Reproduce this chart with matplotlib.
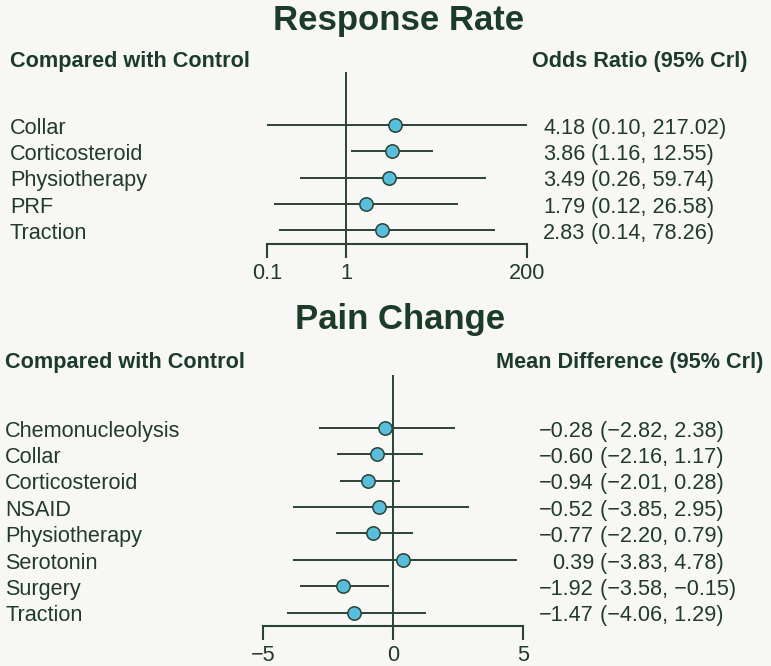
import matplotlib
matplotlib.use("Agg")
import matplotlib.pyplot as plt
import matplotlib.transforms as mtransforms

# ---------------- data ----------------
rr_labels = ["Collar", "Corticosteroid", "Physiotherapy", "PRF", "Traction"]
rr_est = [4.18, 3.86, 3.49, 1.79, 2.83]
rr_lo = [0.10, 1.16, 0.26, 0.12, 0.14]
rr_hi = [217.02, 12.55, 59.74, 26.58, 78.26]
rr_ticks = [0.1, 1, 200]
rr_ticklabels = ["0.1", "1", "200"]

pc_labels = ["Chemonucleolysis", "Collar", "Corticosteroid", "NSAID",
             "Physiotherapy", "Serotonin", "Surgery", "Traction"]
pc_est = [-0.28, -0.60, -0.94, -0.52, -0.77, 0.39, -1.92, -1.47]
pc_lo = [-2.82, -2.16, -2.01, -3.85, -2.20, -3.83, -3.58, -4.06]
pc_hi = [2.38, 1.17, 0.28, 2.95, 0.79, 4.78, -0.15, 1.29]
pc_ticks = [-5, 0, 5]
pc_ticklabels = ["\u22125", "0", "5"]

# ---------------- style ----------------
W, H = 771, 666
BG = "#f7f7f5"
DARK = "#1c3b29"
TXT = "#213a2b"
LINE = "#2a4434"
BLUE = "#58bedb"
FONT = "Liberation Sans"
FS = 15.6
plt.rcParams["font.family"] = [FONT, "DejaVu Sans"]

fig = plt.figure(figsize=(W / 100, H / 100), dpi=100, facecolor=BG)


def fx(px):
    return px / W


def fy(py):
    return 1 - py / H


def fmt(v):
    return f"{v:.2f}".replace("-", "\u2212")


def panel(top_px, x0, x1, labels, est, lo, hi, ref, xlim, log, ticks, ticklabels,
          label_x, est_right_x, ci_x):
    n = len(labels)
    row_px = 26.4
    height_px = (n + 1.52) * row_px
    ax = fig.add_axes([fx(x0), fy(top_px + height_px), fx(x1 - x0), height_px / H])
    ax.set_facecolor("none")
    if log:
        ax.set_xscale("log")
    ax.set_xlim(*xlim)
    ax.set_ylim(n - 0.48, -2.0)
    ys = list(range(n))
    ax.axvline(ref, color=LINE, lw=1.4, zorder=1)
    ax.hlines(ys, lo, hi, color=LINE, lw=1.4, zorder=2)
    ax.plot(est, ys, "o", ms=9.6, mfc=BLUE, mec=LINE, mew=1.1, zorder=3)
    for s in ["top", "left", "right"]:
        ax.spines[s].set_visible(False)
    ax.spines["bottom"].set_color(LINE)
    ax.spines["bottom"].set_linewidth(1.5)
    ax.set_yticks([])
    ax.set_xticks(ticks)
    ax.set_xticklabels(ticklabels)
    ax.minorticks_off()
    ax.tick_params(axis="x", direction="out", length=10, width=1.5, color=LINE,
                   labelsize=FS, labelcolor=TXT, pad=3.5)

    base = mtransforms.blended_transform_factory(fig.transFigure, ax.transData)
    trans = mtransforms.offset_copy(base, fig=fig, y=-8.8, units="dots")
    for i, lab in enumerate(labels):
        fig.text(fx(label_x), i, lab, transform=trans, ha="left", va="baseline",
                 fontsize=FS, color=TXT)
        fig.text(fx(est_right_x), i, fmt(est[i]), transform=trans, ha="right",
                 va="baseline", fontsize=FS, color=TXT)
        fig.text(fx(ci_x), i, f"({fmt(lo[i])}, {fmt(hi[i])})", transform=trans,
                 ha="left", va="baseline", fontsize=FS, color=TXT)
    return ax


# ---------------- top panel ----------------
fig.text(fx(399), fy(30), "Response Rate", ha="center", va="baseline",
         fontsize=25, fontweight="bold", color=DARK)
fig.text(fx(10), fy(67), "Compared with Control", ha="left", va="baseline",
         fontsize=FS, fontweight="bold", color=DARK)
fig.text(fx(531.7), fy(67), "Odds Ratio (95% Crl)", ha="left", va="baseline",
         fontsize=FS, fontweight="bold", color=DARK)
panel(72, 267.3, 527.3, rr_labels, rr_est, rr_lo, rr_hi, 1, (0.1, 200), True,
      rr_ticks, rr_ticklabels, 10, 585.2, 591.0)

# ---------------- bottom panel ----------------
fig.text(fx(400), fy(329), "Pain Change", ha="center", va="baseline",
         fontsize=25, fontweight="bold", color=DARK)
fig.text(fx(5), fy(368), "Compared with Control", ha="left", va="baseline",
         fontsize=FS, fontweight="bold", color=DARK)
fig.text(fx(496), fy(368), "Mean Difference (95% Crl)", ha="left", va="baseline",
         fontsize=FS, fontweight="bold", color=DARK)
panel(375, 262.7, 522.7, pc_labels, pc_est, pc_lo, pc_hi, 0, (-5, 5), False,
      pc_ticks, pc_ticklabels, 5, 594.0, 600.0)

fig.savefig("out.png", dpi=100, facecolor=BG)
